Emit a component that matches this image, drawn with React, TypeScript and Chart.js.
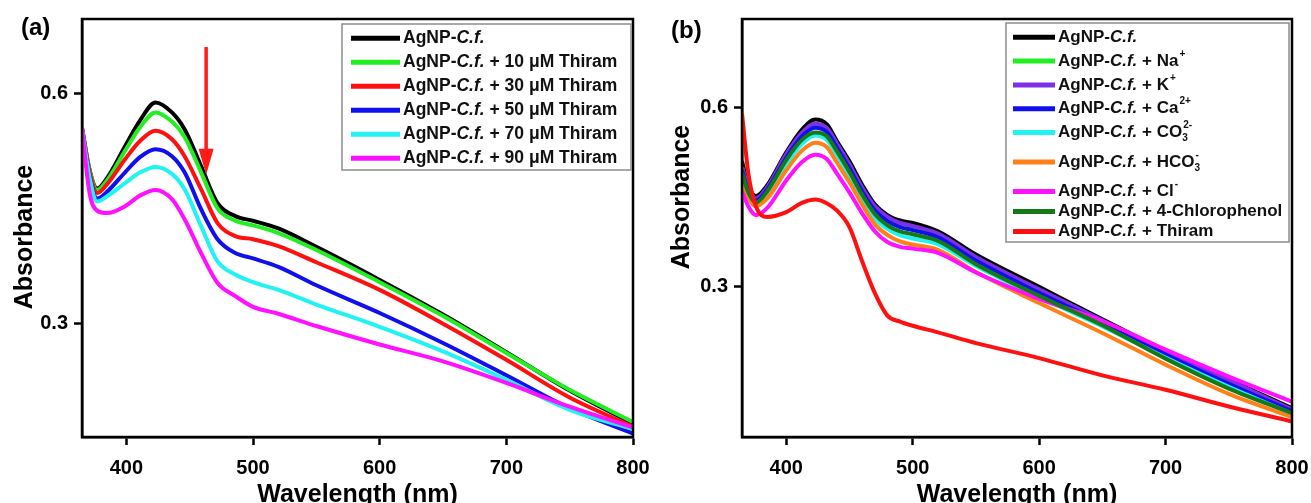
import React, { useEffect, useRef } from 'react';
import { Chart, registerables } from 'chart.js';

Chart.register(...registerables);

const FONT = '"Liberation Sans", Arial, Helvetica, sans-serif';

// ---------- Panel (a) ----------
const wavelengthsA = [365, 371, 377, 385, 399, 411, 423, 436, 446, 459, 472, 486, 500, 520, 550, 600, 650, 700, 750, 800];
const absA0 = [0.555, 0.500, 0.476, 0.490, 0.531, 0.565, 0.588, 0.575, 0.553, 0.505, 0.457, 0.440, 0.434, 0.424, 0.400, 0.357, 0.312, 0.263, 0.213, 0.170];
const absA10 = [0.555, 0.500, 0.474, 0.487, 0.525, 0.556, 0.575, 0.563, 0.543, 0.497, 0.450, 0.434, 0.428, 0.418, 0.396, 0.354, 0.310, 0.262, 0.214, 0.172];
const absA30 = [0.555, 0.498, 0.470, 0.482, 0.514, 0.538, 0.551, 0.540, 0.518, 0.475, 0.431, 0.414, 0.410, 0.401, 0.380, 0.344, 0.300, 0.253, 0.204, 0.166];
const absA50 = [0.553, 0.492, 0.463, 0.472, 0.497, 0.517, 0.527, 0.518, 0.497, 0.449, 0.410, 0.392, 0.385, 0.374, 0.350, 0.314, 0.275, 0.233, 0.190, 0.157];
const absA70 = [0.553, 0.490, 0.459, 0.466, 0.483, 0.497, 0.504, 0.495, 0.475, 0.427, 0.381, 0.364, 0.354, 0.344, 0.325, 0.296, 0.264, 0.227, 0.188, 0.163];
const absA90 = [0.553, 0.470, 0.447, 0.444, 0.453, 0.467, 0.474, 0.462, 0.436, 0.392, 0.353, 0.336, 0.322, 0.313, 0.297, 0.273, 0.251, 0.223, 0.192, 0.165];
const labelsA = [
  'AgNP-C.f.',
  'AgNP-C.f. + 10 μM Thiram',
  'AgNP-C.f. + 30 μM Thiram',
  'AgNP-C.f. + 50 μM Thiram',
  'AgNP-C.f. + 70 μM Thiram',
  'AgNP-C.f. + 90 μM Thiram',
];
const colorsA = ['#000000', '#22ee22', '#ff1010', '#1010ee', '#22f2f2', '#ff10ff'];
const arrowA = { wavelength: 463, from: 0.66, to: 0.494 };

// ---------- Panel (b) ----------
const wavelengthsB = [365, 370, 376, 385, 400, 412, 423, 432, 440, 450, 460, 470, 480, 490, 500, 520, 550, 600, 650, 700, 750, 800];
const absB0 = [0.51, 0.47, 0.452, 0.47, 0.525, 0.562, 0.580, 0.572, 0.544, 0.510, 0.471, 0.438, 0.420, 0.411, 0.407, 0.393, 0.354, 0.300, 0.246, 0.193, 0.145, 0.097];
const absBNa = [0.50, 0.465, 0.447, 0.465, 0.520, 0.555, 0.572, 0.565, 0.538, 0.503, 0.465, 0.433, 0.415, 0.405, 0.400, 0.387, 0.347, 0.294, 0.242, 0.190, 0.142, 0.094];
const absBK = [0.50, 0.465, 0.448, 0.467, 0.522, 0.557, 0.573, 0.566, 0.540, 0.505, 0.466, 0.435, 0.417, 0.407, 0.402, 0.389, 0.350, 0.296, 0.244, 0.192, 0.144, 0.095];
const absBCa = [0.495, 0.46, 0.444, 0.463, 0.516, 0.551, 0.566, 0.559, 0.533, 0.498, 0.460, 0.428, 0.410, 0.400, 0.395, 0.383, 0.344, 0.290, 0.240, 0.187, 0.138, 0.092];
const absBCO3 = [0.485, 0.455, 0.438, 0.455, 0.505, 0.538, 0.553, 0.546, 0.520, 0.485, 0.448, 0.415, 0.397, 0.386, 0.381, 0.371, 0.335, 0.283, 0.234, 0.182, 0.133, 0.088];
const absBHCO3 = [0.478, 0.45, 0.435, 0.448, 0.495, 0.527, 0.541, 0.534, 0.508, 0.475, 0.438, 0.405, 0.387, 0.376, 0.371, 0.362, 0.325, 0.273, 0.223, 0.170, 0.121, 0.082];
const absBCl = [0.46, 0.435, 0.420, 0.432, 0.478, 0.508, 0.521, 0.514, 0.490, 0.458, 0.423, 0.393, 0.375, 0.367, 0.364, 0.357, 0.324, 0.280, 0.243, 0.195, 0.150, 0.108];
const absBCP = [0.49, 0.458, 0.441, 0.46, 0.512, 0.545, 0.558, 0.552, 0.527, 0.492, 0.454, 0.422, 0.403, 0.393, 0.388, 0.377, 0.338, 0.285, 0.236, 0.180, 0.130, 0.089];
const absBThiram = [0.59, 0.49, 0.435, 0.417, 0.425, 0.44, 0.446, 0.44, 0.428, 0.40, 0.343, 0.29, 0.252, 0.242, 0.235, 0.224, 0.206, 0.181, 0.152, 0.128, 0.100, 0.075];
const labelsB = [
  'AgNP-C.f.',
  'AgNP-C.f. + Na^{+}',
  'AgNP-C.f. + K^{+}',
  'AgNP-C.f. + Ca^{2+}',
  'AgNP-C.f. + CO_{3}^{2-}',
  'AgNP-C.f. + HCO_{3}^{-}',
  'AgNP-C.f. + Cl^{-}',
  'AgNP-C.f. + 4-Chlorophenol',
  'AgNP-C.f. + Thiram',
];
const colorsB = ['#000000', '#22ee22', '#7f30e6', '#1010ee', '#22f2f2', '#ff8018', '#ff10ff', '#157a15', '#ff1010'];

// ---------- Axes ----------
const xTicks = [400, 500, 600, 700, 800];
const yTicks = [0.3, 0.6];
const xMin = 365;
const xMax = 800;
const yRangeA = [0.1526, 0.6965];
const yRangeB = [0.049, 0.748];

const H = 512;
const PLOT_TOP = 19;
const PLOT_BOTTOM = 437;

type Seg = { t: string; s: 'n' | 'i' | 'sup' | 'sub' };

function parseRich(label: string): Seg[] {
  const segs: Seg[] = [];
  let buf = '';
  let i = 0;
  const flush = () => {
    if (buf) segs.push({ t: buf, s: 'n' });
    buf = '';
  };
  while (i < label.length) {
    if (label.startsWith('C.f.', i)) {
      flush();
      segs.push({ t: 'C.f.', s: 'i' });
      i += 4;
      continue;
    }
    if ((label[i] === '^' || label[i] === '_') && label[i + 1] === '{') {
      flush();
      const end = label.indexOf('}', i);
      segs.push({ t: label.slice(i + 2, end), s: label[i] === '^' ? 'sup' : 'sub' });
      i = end + 1;
      continue;
    }
    buf += label[i];
    i++;
  }
  flush();
  return segs;
}

function plainLabel(label: string) {
  return label.replace(/[\^_]\{([^}]*)\}/g, '$1');
}

function drawRich(ctx: CanvasRenderingContext2D, label: string, x: number, y: number, size: number) {
  const segs = parseRich(label);
  let cx = x;
  let subStart: number | null = null;
  let subEnd = 0;
  ctx.fillStyle = '#111';
  ctx.textBaseline = 'middle';
  ctx.textAlign = 'left';
  for (const seg of segs) {
    if (seg.s === 'n' || seg.s === 'i') {
      ctx.font = `${seg.s === 'i' ? 'italic ' : ''}bold ${size}px ${FONT}`;
      ctx.fillText(seg.t, cx, y);
      cx += ctx.measureText(seg.t).width;
      subStart = null;
    } else if (seg.s === 'sub') {
      ctx.font = `bold ${Math.round(size * 0.6)}px ${FONT}`;
      subStart = cx;
      ctx.fillText(seg.t, cx, y + 6);
      cx += ctx.measureText(seg.t).width;
      subEnd = cx;
    } else {
      ctx.font = `bold ${Math.round(size * 0.6)}px ${FONT}`;
      const sx = subStart !== null ? subStart + 1 : cx + 1;
      ctx.fillText(seg.t, sx, y - 7);
      cx = Math.max(subStart !== null ? subEnd : 0, sx + ctx.measureText(seg.t).width);
      subStart = null;
    }
  }
}

type PanelCfg = {
  wavelengths: number[];
  series: number[][];
  labels: string[];
  colors: string[];
  yRange: number[];
  plotLeft: number;
  padRight: number;
  panelLabel: string;
  panelLabelPos: [number, number];
  yTitlePos: [number, number];
  legend: {
    box: [number, number, number, number];
    lineX: number;
    lineLen: number;
    textX: number;
    firstY: number;
    fontSize: number;
    step: number;
  };
  arrow?: { wavelength: number; from: number; to: number };
};

function makeDecor(cfg: PanelCfg) {
  return {
    id: 'decor',
    afterDatasetsDraw(chart: any) {
      const { ctx, chartArea: ca, scales } = chart;
      ctx.save();
      // arrow
      if (cfg.arrow) {
        const ax = scales.x.getPixelForValue(cfg.arrow.wavelength);
        const y0 = scales.y.getPixelForValue(cfg.arrow.from);
        const y1 = scales.y.getPixelForValue(cfg.arrow.to);
        const headH = 26;
        ctx.strokeStyle = '#ff1a1a';
        ctx.fillStyle = '#ff1a1a';
        ctx.lineWidth = 3.5;
        ctx.beginPath();
        ctx.moveTo(ax, y0);
        ctx.lineTo(ax, y1 - headH + 2);
        ctx.stroke();
        ctx.beginPath();
        ctx.moveTo(ax - 7.5, y1 - headH);
        ctx.lineTo(ax + 7.5, y1 - headH);
        ctx.lineTo(ax, y1);
        ctx.closePath();
        ctx.fill();
      }
      // frame
      ctx.strokeStyle = '#000';
      ctx.lineWidth = 2.5;
      ctx.strokeRect(ca.left, ca.top, ca.right - ca.left, ca.bottom - ca.top);
      // legend
      const lg = cfg.legend;
      const [bx, by, bw, bh] = lg.box;
      ctx.fillStyle = '#fff';
      ctx.fillRect(bx, by, bw, bh);
      ctx.strokeStyle = '#8c8c8c';
      ctx.lineWidth = 1.5;
      ctx.strokeRect(bx, by, bw, bh);
      let y = lg.firstY;
      let afterSub = false;
      cfg.labels.forEach((lab, i) => {
        ctx.strokeStyle = cfg.colors[i];
        ctx.lineWidth = 5;
        ctx.lineCap = 'butt';
        ctx.beginPath();
        ctx.moveTo(lg.lineX, y);
        ctx.lineTo(lg.lineX + lg.lineLen, y);
        ctx.stroke();
        drawRich(ctx, lab, lg.textX, y, lg.fontSize);
        const hasSub = lab.includes('_{');
        if (hasSub) {
          y += lg.step + 5.7;
          afterSub = true;
        } else {
          y += afterSub ? lg.step - 3.8 : lg.step;
        }
      });
      // panel label
      ctx.fillStyle = '#000';
      ctx.font = `bold 24px ${FONT}`;
      ctx.textAlign = 'left';
      ctx.textBaseline = 'middle';
      ctx.fillText(cfg.panelLabel, cfg.panelLabelPos[0], cfg.panelLabelPos[1]);
      // y title
      ctx.translate(cfg.yTitlePos[0], cfg.yTitlePos[1]);
      ctx.rotate(-Math.PI / 2);
      ctx.font = `bold 25px ${FONT}`;
      ctx.textAlign = 'center';
      ctx.fillText('Absorbance', 0, 0);
      ctx.restore();
    },
  };
}

function makeConfig(cfg: PanelCfg): any {
  const n = cfg.series.length;
  const tickFont = { family: FONT, size: 20, weight: 'bold' as const };
  const grid = {
    display: true,
    drawOnChartArea: false,
    drawTicks: true,
    tickLength: 8,
    tickWidth: 2.5,
    tickColor: '#000',
  };
  const border = { display: true, color: '#000', width: 2.5 };
  return {
    type: 'line',
    data: {
      datasets: cfg.series.map((s, i) => ({
        label: plainLabel(cfg.labels[i]),
        data: cfg.wavelengths.map((w, j) => ({ x: w, y: s[j] })),
        borderColor: cfg.colors[i],
        backgroundColor: cfg.colors[i],
        borderWidth: 4,
        pointRadius: 0,
        cubicInterpolationMode: 'monotone',
        fill: false,
        order: n - i,
      })),
    },
    options: {
      responsive: false,
      animation: false,
      devicePixelRatio: 1,
      layout: { padding: { top: PLOT_TOP, right: cfg.padRight, left: 0, bottom: 0 } },
      plugins: {
        legend: { display: false },
        tooltip: { enabled: false },
      },
      scales: {
        x: {
          type: 'linear',
          min: xMin,
          max: xMax,
          afterBuildTicks: (s: any) => {
            s.ticks = xTicks.map((v) => ({ value: v }));
          },
          afterFit: (s: any) => {
            s.height = H - PLOT_BOTTOM;
            s.paddingLeft = 0;
            s.paddingRight = 0;
          },
          ticks: {
            color: '#000',
            font: tickFont,
            padding: 11,
            maxRotation: 0,
            autoSkip: false,
            callback: (v: any) => String(v),
          },
          grid,
          border,
          title: {
            display: true,
            text: 'Wavelength (nm)',
            color: '#000',
            font: { family: FONT, size: 25, weight: 'bold' },
            padding: { top: 0, bottom: 2 },
          },
        },
        y: {
          type: 'linear',
          min: cfg.yRange[0],
          max: cfg.yRange[1],
          afterBuildTicks: (s: any) => {
            s.ticks = yTicks.map((v) => ({ value: v }));
          },
          afterFit: (s: any) => {
            s.width = cfg.plotLeft;
            s.paddingTop = 0;
            s.paddingBottom = 0;
          },
          ticks: {
            color: '#000',
            font: tickFont,
            padding: 6,
            autoSkip: false,
            callback: (v: any) => Number(v).toFixed(1),
          },
          grid,
          border,
          title: { display: false },
        },
      },
    },
    plugins: [makeDecor(cfg)],
  };
}

const panelA: PanelCfg = {
  wavelengths: wavelengthsA,
  series: [absA0, absA10, absA30, absA50, absA70, absA90],
  labels: labelsA,
  colors: colorsA,
  yRange: yRangeA,
  plotLeft: 82,
  padRight: 22,
  panelLabel: '(a)',
  panelLabelPos: [21, 28],
  yTitlePos: [25, 237],
  legend: { box: [342, 24, 289, 146], lineX: 351, lineLen: 49, textX: 403, firstY: 38.3, fontSize: 17.5, step: 24 },
  arrow: arrowA,
};

const panelB: PanelCfg = {
  wavelengths: wavelengthsB,
  series: [absB0, absBNa, absBK, absBCa, absBCO3, absBHCO3, absBCl, absBCP, absBThiram],
  labels: labelsB,
  colors: colorsB,
  yRange: yRangeB,
  plotLeft: 87,
  padRight: 19,
  panelLabel: '(b)',
  panelLabelPos: [16, 31],
  yTitlePos: [27, 197],
  legend: { box: [351, 23, 283, 219], lineX: 358, lineLen: 42, textX: 403, firstY: 37.3, fontSize: 17, step: 23.8 },
};

function Panel({ cfg, left, width }: { cfg: PanelCfg; left: number; width: number }) {
  const ref = useRef<HTMLCanvasElement>(null);
  useEffect(() => {
    if (!ref.current) return;
    const chart = new Chart(ref.current, makeConfig(cfg));
    return () => chart.destroy();
  }, [cfg]);
  return (
    <canvas
      ref={ref}
      width={width}
      height={H}
      style={{ position: 'absolute', left, top: 0, width, height: H, display: 'block' }}
    />
  );
}

export default function App() {
  return (
    <div
      style={{
        position: 'fixed',
        left: 0,
        top: 0,
        width: 1311,
        height: H,
        background: '#fff',
        overflow: 'hidden',
      }}
    >
      <Panel cfg={panelA} left={0} width={655} />
      <Panel cfg={panelB} left={655} width={656} />
    </div>
  );
}
